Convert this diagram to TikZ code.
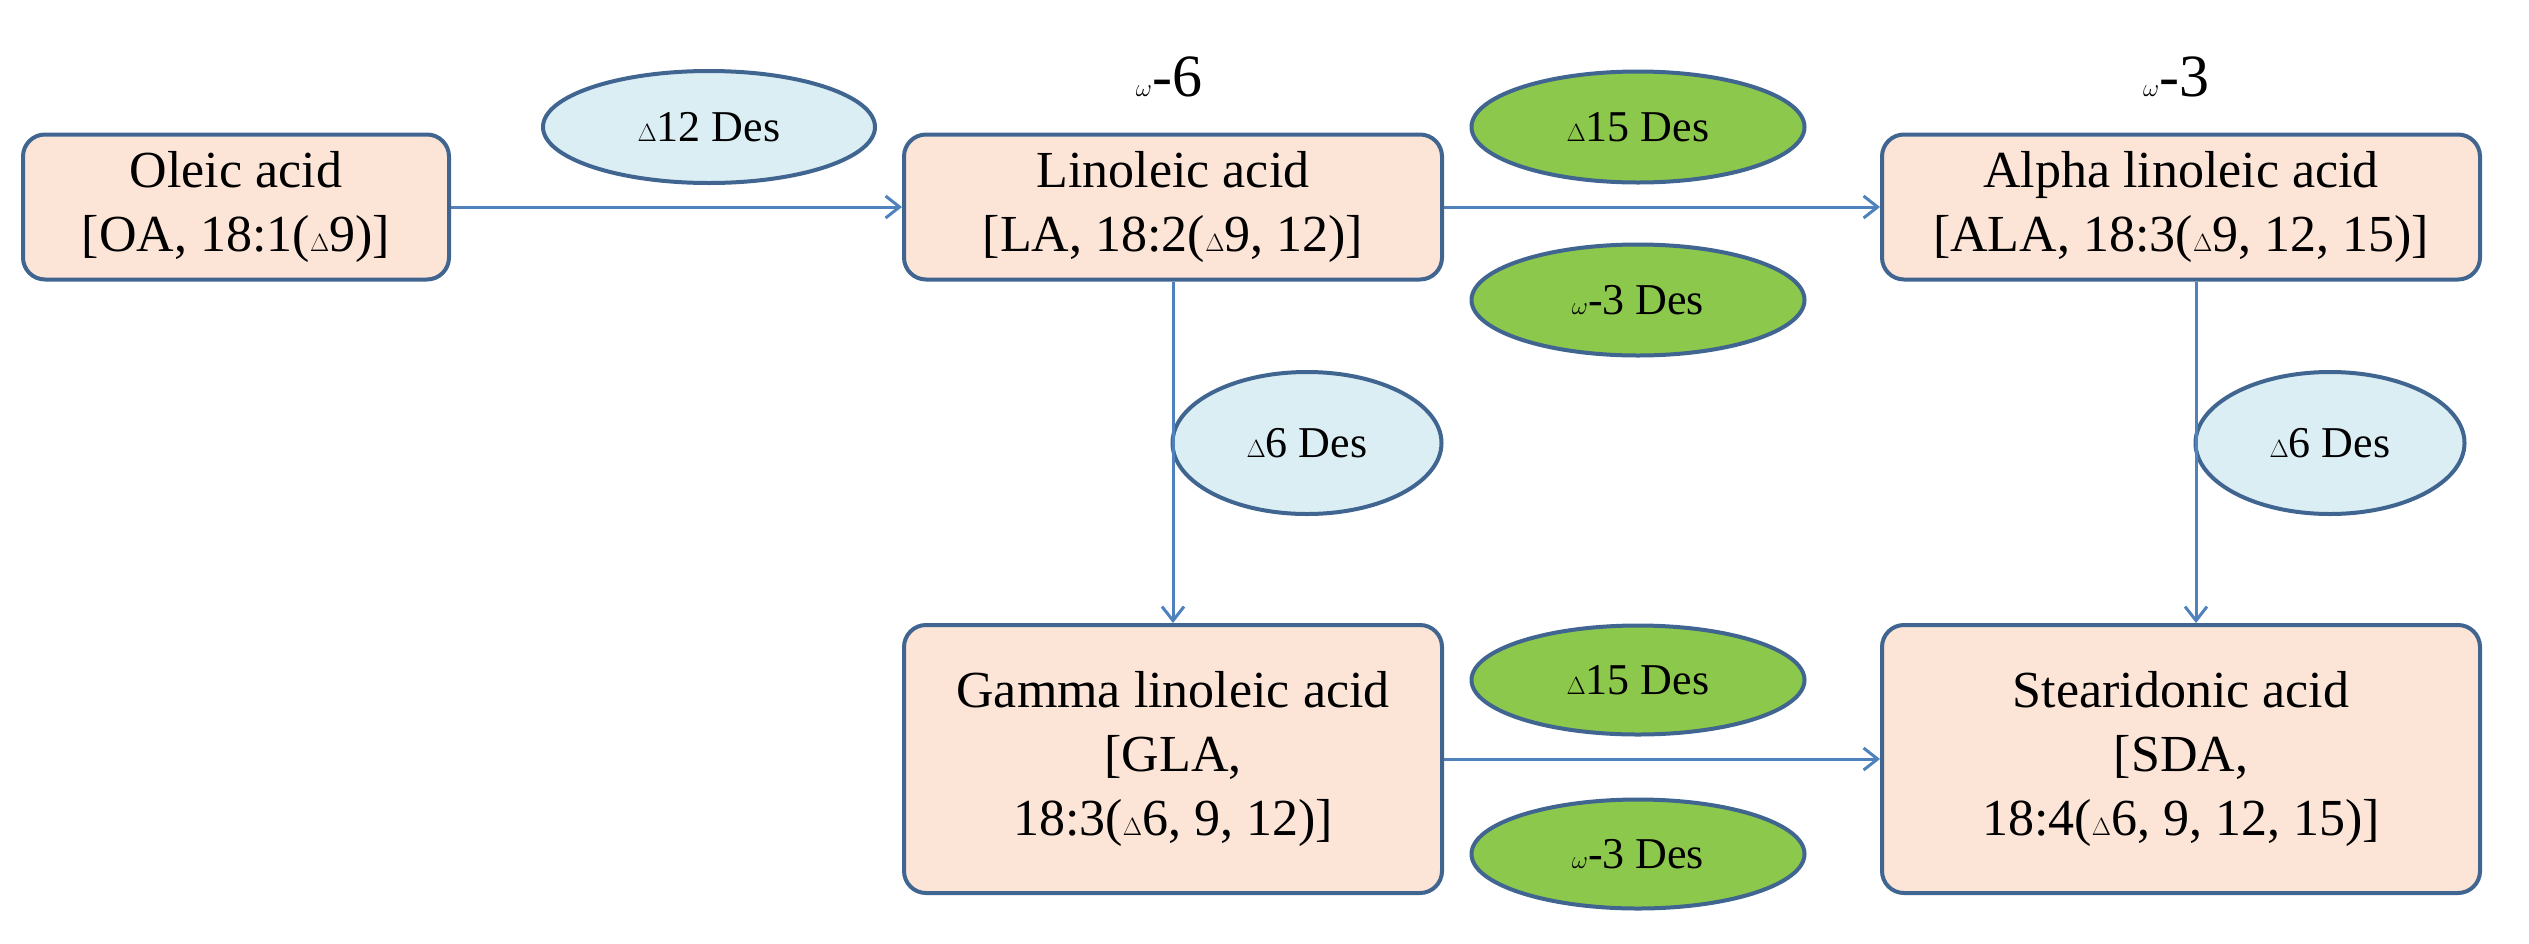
\documentclass[tikz,border=0pt]{standalone}
\usepackage{fontspec}
\setmainfont{Liberation Serif}
\usetikzlibrary{shapes.geometric,arrows.meta}
\definecolor{boxfill}{HTML}{FCE4D6}
\definecolor{boxdraw}{HTML}{3F6590}
\definecolor{lblue}{HTML}{DBEEF4}
\definecolor{lgreen}{HTML}{8CC84B}
\definecolor{arr}{HTML}{4F81BD}
\begin{document}
\begin{tikzpicture}[x=1pt,y=-1pt,
  box/.style={draw=boxdraw,line width=4pt,fill=boxfill,rounded corners=22pt,align=center,inner sep=0pt,font=\fontsize{52}{64}\selectfont},
  enz/.style={ellipse,draw=boxdraw,line width=4pt,inner sep=0pt,font=\fontsize{44}{52}\selectfont},
  blu/.style={enz,fill=lblue},
  grn/.style={enz,fill=lgreen},
  ar/.style={draw=arr,line width=3pt,-{Straight Barb[length=14pt,width=22pt,line width=3pt]}},
  lab/.style={font=\fontsize{60}{70}\selectfont}]
\useasboundingbox (0,0) rectangle (2529,943);
\node[box,minimum width=426pt,minimum height=145pt] (OA) at (236,207) {Oleic acid\\{}[OA, 18:1($\Delta$9)]};
\node[box,minimum width=538pt,minimum height=145pt] (LA) at (1173,207) {Linoleic acid\\{}[LA, 18:2($\Delta$9, 12)]};
\node[box,minimum width=598pt,minimum height=145pt] (ALA) at (2181,207) {Alpha linoleic acid\\{}[ALA, 18:3($\Delta$9, 12, 15)]};
\node[box,minimum width=538pt,minimum height=268pt] (GLA) at (1173,759) {Gamma linoleic acid\\{}[GLA,\\18:3($\Delta$6, 9, 12)]};
\node[box,minimum width=598pt,minimum height=268pt] (SDA) at (2181,759) {Stearidonic acid\\{}[SDA,\\18:4($\Delta$6, 9, 12, 15)]};
\node[lab] (w6) at (1169,77) {$\omega$-6};
\node[lab] (w3) at (2176,77) {$\omega$-3};
\node[blu,minimum width=332pt,minimum height=112pt] (e12) at (709,127) {$\Delta$12 Des};
\node[grn,minimum width=333pt,minimum height=111pt] (e15a) at (1638,127) {$\Delta$15 Des};
\node[grn,minimum width=333pt,minimum height=111pt] (w3a) at (1638,300) {$\omega$-3 Des};
\node[blu,minimum width=269pt,minimum height=142pt] (d6a) at (1307,443) {$\Delta$6 Des};
\node[blu,minimum width=269pt,minimum height=142pt] (d6b) at (2330,443) {$\Delta$6 Des};
\node[grn,minimum width=333pt,minimum height=109pt] (e15b) at (1638,680) {$\Delta$15 Des};
\node[grn,minimum width=333pt,minimum height=109pt] (w3b) at (1638,854) {$\omega$-3 Des};
\draw[ar] (OA) -- (LA);
\draw[ar] (LA) -- (ALA);
\draw[ar] (LA) -- (GLA);
\draw[ar] ([xshift=15pt]ALA.south) -- ([xshift=15pt]SDA.north);
\draw[ar] (GLA) -- (SDA);
\end{tikzpicture}
\end{document}
